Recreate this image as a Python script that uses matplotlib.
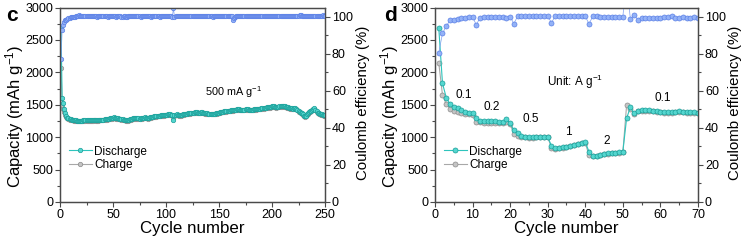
"""Cycling performance: long cycling (c) and rate capability (d)."""
import numpy as np
import matplotlib
matplotlib.use("Agg")
import matplotlib.pyplot as plt
from matplotlib.ticker import MultipleLocator

plt.rcParams["font.family"] = ["Liberation Sans", "DejaVu Sans"]
plt.rcParams["mathtext.fontset"] = "custom"
plt.rcParams["mathtext.rm"] = "Liberation Sans"
plt.rcParams["mathtext.it"] = "Liberation Sans:italic"
plt.rcParams["mathtext.bf"] = "Liberation Sans:bold"

# ---- panel c: 500 mA g-1, 250 cycles ----
cycles_c = np.arange(1, 251)
discharge_c = [
    2680, 1600, 1520, 1430, 1370, 1330, 1300, 1290, 1280, 1275,
    1270, 1265, 1262, 1260, 1258, 1255, 1255, 1253, 1252, 1250,
    1255, 1258, 1260, 1262, 1260, 1262, 1265, 1262, 1260, 1262,
    1265, 1268, 1266, 1264, 1262, 1265, 1268, 1270, 1268, 1266,
    1270, 1275, 1278, 1280, 1282, 1285, 1288, 1290, 1295, 1300,
    1305, 1300, 1295, 1290, 1288, 1285, 1282, 1280, 1275, 1272,
    1268, 1265, 1262, 1265, 1270, 1275, 1280, 1285, 1288, 1290,
    1292, 1295, 1290, 1288, 1285, 1290, 1295, 1300, 1302, 1305,
    1300, 1298, 1295, 1300, 1305, 1310, 1315, 1318, 1320, 1322,
    1325, 1328, 1330, 1332, 1335, 1338, 1340, 1342, 1345, 1345,
    1348, 1350, 1352, 1350, 1348, 1345, 1270, 1340, 1345, 1350,
    1345, 1340, 1338, 1340, 1345, 1350, 1355, 1360, 1362, 1365,
    1368, 1370, 1372, 1375, 1378, 1380, 1382, 1385, 1383, 1380,
    1378, 1380, 1382, 1385, 1380, 1375, 1372, 1370, 1368, 1365,
    1362, 1360, 1358, 1360, 1362, 1365, 1368, 1372, 1375, 1380,
    1385, 1390, 1392, 1395, 1398, 1400, 1402, 1405, 1408, 1410,
    1412, 1415, 1418, 1420, 1422, 1425, 1428, 1430, 1428, 1425,
    1422, 1420, 1422, 1425, 1428, 1430, 1428, 1425, 1422, 1420,
    1422, 1425, 1428, 1430, 1432, 1435, 1438, 1440, 1442, 1445,
    1448, 1450, 1452, 1455, 1458, 1460, 1462, 1465, 1470, 1475,
    1478, 1475, 1470, 1465, 1468, 1472, 1475, 1478, 1480, 1482,
    1480, 1475, 1470, 1465, 1460, 1455, 1450, 1448, 1445, 1440,
    1445, 1450, 1440, 1420, 1400, 1390, 1380, 1370, 1350, 1330,
    1320, 1330, 1350, 1370, 1390, 1400, 1410, 1420, 1440, 1450,
    1420, 1400, 1380, 1370, 1360, 1355, 1350, 1345, 1340, 1340,
]
charge_c = [
    2060, 1500, 1440, 1390, 1340, 1310, 1290, 1280, 1272, 1268,
    1262, 1258, 1255, 1252, 1250, 1248, 1247, 1245, 1244, 1243,
    1247, 1250, 1252, 1254, 1252, 1254, 1257, 1254, 1252, 1254,
    1257, 1260, 1258, 1256, 1254, 1257, 1260, 1262, 1260, 1258,
    1262, 1267, 1270, 1272, 1274, 1277, 1280, 1282, 1287, 1292,
    1297, 1292, 1287, 1282, 1280, 1277, 1274, 1272, 1267, 1264,
    1260, 1257, 1254, 1257, 1262, 1267, 1272, 1277, 1280, 1282,
    1284, 1287, 1282, 1280, 1277, 1282, 1287, 1292, 1294, 1297,
    1292, 1290, 1287, 1292, 1297, 1302, 1307, 1310, 1312, 1314,
    1317, 1320, 1322, 1324, 1327, 1330, 1332, 1334, 1337, 1337,
    1340, 1342, 1344, 1342, 1340, 1337, 1300, 1332, 1337, 1342,
    1337, 1332, 1330, 1332, 1337, 1342, 1347, 1352, 1354, 1357,
    1360, 1362, 1364, 1367, 1370, 1372, 1374, 1377, 1375, 1372,
    1370, 1372, 1374, 1377, 1372, 1367, 1364, 1362, 1360, 1357,
    1354, 1352, 1350, 1352, 1354, 1357, 1360, 1364, 1367, 1372,
    1377, 1382, 1384, 1387, 1390, 1392, 1394, 1397, 1400, 1402,
    1404, 1407, 1410, 1412, 1414, 1417, 1420, 1422, 1420, 1417,
    1414, 1412, 1414, 1417, 1420, 1422, 1420, 1417, 1414, 1412,
    1414, 1417, 1420, 1422, 1424, 1427, 1430, 1432, 1434, 1437,
    1440, 1442, 1444, 1447, 1450, 1452, 1454, 1457, 1462, 1467,
    1470, 1467, 1462, 1457, 1460, 1464, 1467, 1470, 1472, 1474,
    1472, 1467, 1462, 1457, 1452, 1447, 1442, 1440, 1437, 1432,
    1437, 1442, 1432, 1412, 1392, 1382, 1372, 1362, 1342, 1322,
    1312, 1322, 1342, 1362, 1382, 1392, 1402, 1412, 1432, 1442,
    1412, 1392, 1372, 1362, 1352, 1347, 1342, 1337, 1332, 1332,
]
ce_c = [
    77.0, 93.0, 95.5, 97.0, 98.0, 98.5, 99.0, 99.3, 99.5, 99.7,
    99.8, 99.9, 100.0, 100.1, 100.2, 100.3, 100.5, 100.8, 100.6, 100.4,
    100.3, 100.4, 100.3, 100.2, 100.4, 100.3, 100.3, 100.2, 100.4, 100.3,
    100.2, 100.3, 100.4, 100.2, 100.1, 100.3, 100.4, 100.3, 100.2, 100.5,
    100.3, 100.2, 100.4, 100.3, 100.1, 100.2, 100.4, 100.3, 100.2, 100.5,
    100.3, 100.2, 100.1, 100.2, 100.3, 100.4, 100.2, 100.1, 100.0, 100.2,
    100.3, 100.1, 100.0, 100.2, 100.3, 100.4, 100.3, 100.2, 100.4, 100.3,
    100.2, 100.3, 100.5, 100.3, 100.2, 100.1, 100.3, 100.4, 100.2, 100.3,
    100.4, 100.3, 100.2, 100.4, 100.3, 100.1, 100.2, 100.3, 100.4, 100.2,
    100.3, 100.4, 100.2, 100.1, 100.3, 100.4, 100.3, 100.2, 100.3, 100.4,
    100.2, 100.3, 100.4, 100.3, 100.2, 100.1, 104.5, 100.0, 100.2, 100.3,
    100.4, 100.3, 100.2, 100.4, 100.3, 100.2, 100.3, 100.4, 100.2, 100.3,
    100.4, 100.3, 100.2, 100.4, 100.3, 100.2, 100.3, 100.4, 100.2, 100.3,
    100.2, 100.3, 100.4, 100.2, 100.3, 100.4, 100.3, 100.2, 100.4, 100.3,
    100.2, 100.4, 100.3, 100.1, 100.2, 100.3, 100.4, 100.3, 100.2, 100.3,
    100.4, 100.3, 100.2, 100.3, 100.4, 100.2, 100.3, 100.4, 100.3, 100.2,
    100.3, 100.4, 98.2, 99.6, 100.0, 100.2, 100.3, 100.4, 100.3, 100.2,
    100.3, 100.4, 100.2, 100.3, 100.4, 100.3, 100.2, 100.3, 100.4, 100.3,
    100.2, 100.3, 100.4, 100.2, 100.3, 100.4, 100.3, 100.2, 100.4, 100.3,
    100.5, 100.6, 100.4, 100.3, 100.2, 100.3, 100.4, 100.2, 100.3, 100.4,
    100.5, 100.3, 100.2, 100.4, 100.3, 100.2, 100.3, 100.4, 100.2, 100.3,
    100.4, 100.3, 100.2, 100.3, 100.4, 100.2, 100.3, 100.4, 100.3, 100.2,
    100.3, 100.4, 100.3, 100.5, 100.6, 100.9, 100.8, 100.5, 100.3, 100.2,
    100.3, 100.2, 100.4, 100.3, 100.2, 100.4, 100.5, 100.4, 100.3, 100.2,
    100.3, 100.4, 100.3, 100.2, 100.3, 100.4, 100.6, 100.9, 100.5, 100.3,
]

# ---- panel d: rate capability, 70 cycles ----
cycles_d = np.arange(1, 71)
discharge_d = [
    2690, 1830, 1610, 1510, 1470, 1445, 1420, 1395, 1380, 1370,
    1300, 1255, 1250, 1248, 1245, 1242, 1240, 1238, 1275, 1215,
    1110, 1060, 1020, 1005, 1000, 998, 1002, 1005, 1005, 1005,
    865, 830, 835, 845, 855, 865, 880, 900, 915, 925,
    775, 712, 710, 730, 745, 752, 758, 762, 766, 775,
    1290, 1460, 1368, 1408, 1418, 1420, 1415, 1410, 1400, 1395,
    1390, 1388, 1390, 1395, 1398, 1395, 1390, 1385, 1385, 1380,
]
charge_d = [
    2150, 1650, 1510, 1440, 1410, 1390, 1370, 1360, 1350, 1340,
    1240, 1228, 1226, 1224, 1222, 1220, 1218, 1216, 1230, 1205,
    1050, 1020, 1000, 995, 993, 992, 995, 998, 998, 998,
    840, 825, 830, 838, 848, 858, 872, 892, 905, 915,
    720, 705, 705, 722, 738, 745, 750, 755, 758, 765,
    1490, 1430, 1360, 1398, 1408, 1410, 1405, 1400, 1390, 1385,
    1380, 1378, 1380, 1385, 1388, 1385, 1380, 1375, 1375, 1370,
]
ce_d = [
    80.5, 91.0, 95.0, 98.0, 98.5, 99.0, 99.3, 99.5, 99.8, 100.0,
    95.6, 99.6, 99.8, 99.9, 100.0, 100.0, 99.9, 99.8, 99.6, 100.0,
    96.3, 100.3, 100.3, 100.4, 100.5, 100.6, 100.4, 100.4, 100.4, 100.4,
    96.8, 100.3, 100.3, 100.3, 100.3, 100.3, 100.3, 100.3, 100.3, 100.2,
    96.2, 100.2, 100.2, 100.1, 100.0, 100.0, 100.0, 100.0, 100.1, 100.1,
    120.0, 98.8, 100.8, 98.5, 99.2, 99.6, 99.6, 99.4, 99.2, 99.6,
    99.8, 100.1, 100.5, 99.5, 99.6, 99.7, 99.6, 99.5, 99.9, 99.4,
]
rate_labels = ["0.1", "0.2", "0.5", "1", "2", "0.1"]
rate_label_xy = [(7.7, 1650), (15.1, 1470), (25.4, 1280), (35.4, 1085),
                 (45.8, 945), (60.5, 1600)]

TEAL_LINE, TEAL_FACE, TEAL_EDGE = "#2ec4bc", "#55d6cf", "#1a9f99"
GREY_LINE, GREY_FACE, GREY_EDGE = "#a8a8a8", "#c4c4c4", "#8c8c8c"
BLUE_LINE, BLUE_FACE, BLUE_EDGE = "#7f9ff0", "#93b2f7", "#5b80e6"
SPINE = "#4a4a4a"


def style_axis(ax):
    for s in ax.spines.values():
        s.set_color(SPINE)
        s.set_linewidth(0.9)
    ax.tick_params(which="both", direction="out", colors=SPINE,
                   labelcolor="black", labelsize=9, width=0.8)
    ax.tick_params(which="major", length=3.5, pad=1.5)
    ax.tick_params(which="minor", length=2)
    ax.tick_params(top=False, which="both")


def draw_panel(ax, x, dis, chg, ce, xmax, xmajor, xminor, ms, letter, lx):
    ax2 = ax.twinx()
    ax.plot(x, chg, "-o", color=GREY_LINE, lw=0.8, ms=ms, mfc=GREY_FACE,
            mec=GREY_EDGE, mew=0.5, label="Charge", zorder=2)
    ax.plot(x, dis, "-o", color=TEAL_LINE, lw=0.8, ms=ms, mfc=TEAL_FACE,
            mec=TEAL_EDGE, mew=0.5, label="Discharge", zorder=3)
    ax2.plot(x, ce, "-o", color=BLUE_LINE, lw=0.5, ms=ms, mfc=BLUE_FACE,
             mec=BLUE_EDGE, mew=0.5)

    ax.set_xlim(0, xmax)
    ax.set_ylim(0, 3000)
    ax2.set_ylim(0, 105)
    ax.xaxis.set_major_locator(MultipleLocator(xmajor))
    ax.xaxis.set_minor_locator(MultipleLocator(xminor))
    ax.yaxis.set_major_locator(MultipleLocator(500))
    ax.yaxis.set_minor_locator(MultipleLocator(250))
    ax2.yaxis.set_major_locator(MultipleLocator(20))
    ax2.yaxis.set_minor_locator(MultipleLocator(10))
    style_axis(ax)
    style_axis(ax2)
    ax2.tick_params(which="both", left=False, right=True)

    ax.set_xlabel("Cycle number", fontsize=12.2, labelpad=0)
    ax.set_ylabel("Capacity (mAh g$^{-1}$)", fontsize=12.0)
    ax.yaxis.set_label_coords(-0.13, 0.44)
    ax2.set_ylabel("Coulomb efficiency (%)", fontsize=10.8)
    ax2.yaxis.set_label_coords(1.115, 0.51)

    handles, labels = ax.get_legend_handles_labels()
    ax.legend(handles[::-1], labels[::-1], loc="upper left",
              bbox_to_anchor=(0.035, 0.29), frameon=False, fontsize=8.5,
              handlelength=1.9, handletextpad=0.2, labelspacing=0.15,
              borderpad=0, borderaxespad=0, numpoints=1)
    ax.text(lx, 1.01, letter, transform=ax.transAxes, fontsize=15,
            fontweight="bold", va="top", ha="left")
    return ax2


fig = plt.figure(figsize=(7.51, 2.42), dpi=100)
ax_c = fig.add_axes([0.0799, 0.1653, 0.3529, 0.8037])
ax_d = fig.add_axes([0.5792, 0.1653, 0.3502, 0.8037])

draw_panel(ax_c, cycles_c, discharge_c, charge_c, ce_c, 250, 50, 25, 3.2,
           "c", -0.205)
ax_c.text(137, 1700, "500 mA g$^{-1}$", fontsize=7.8, va="center")

draw_panel(ax_d, cycles_d, discharge_d, charge_d, ce_d, 70, 10, 5, 3.6,
           "d", -0.195)
ax_d.text(29.8, 1851, "Unit: A g$^{-1}$", fontsize=8.5, va="center")
for lab, (lx, ly) in zip(rate_labels, rate_label_xy):
    ax_d.text(lx, ly, lab, fontsize=8.5, ha="center", va="center")

fig.savefig("out.png", dpi=100)
